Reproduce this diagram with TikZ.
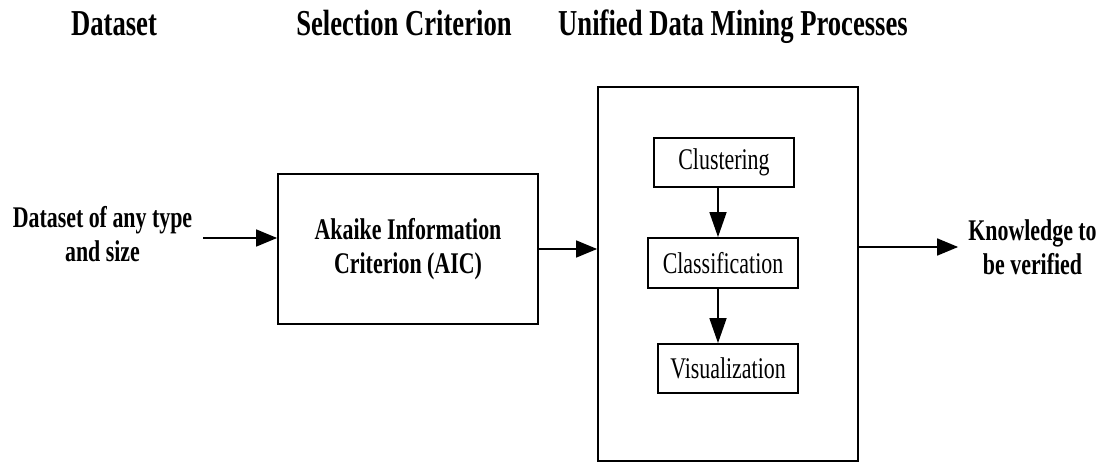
\documentclass[tikz,border=0pt]{standalone}
\usepackage{fontspec}
\setmainfont[FakeStretch=0.73]{Liberation Serif}
\usetikzlibrary{arrows.meta}
\begin{document}
\begin{tikzpicture}[x=1pt,y=-1pt,
  hdr/.style={font=\fontsize{36.5}{40}\selectfont\bfseries, anchor=base, inner sep=0pt},
  lbl/.style={font=\fontsize{30}{34}\selectfont\bfseries, align=center, inner sep=0pt},
  frame/.style={draw, line width=1.8pt, inner sep=0pt},
  stage/.style={frame, font=\fontsize{30}{34}\selectfont},
  flow/.style={line width=1.6pt, -{Triangle[length=21pt,width=17pt]}},
  down/.style={line width=1.6pt, -{Triangle[length=25pt,width=17pt]}}]
\useasboundingbox (0,0) rectangle (1102,462);

% column headings
\node[hdr] (h1) at (114,36) {Dataset};
\node[hdr] (h2) at (404,36) {Selection Criterion};
\node[hdr] (h3) at (733,36) {Unified Data Mining Processes};

% input, selection criterion and output
\node[lbl] (in) at (102.5,234) {Dataset of any type\\and size};
\node[frame, lbl, minimum width=260pt, minimum height=150pt] (aic) at (408,249)
  {Akaike Information\\Criterion (AIC)};
\node[lbl] (out) at (1032.5,247) {Knowledge to\\be verified};

% unified mining processes
\node[frame, minimum width=260pt, minimum height=374pt] (udm) at (728,274) {};
\node[stage, minimum width=140pt, minimum height=49pt] (clu) at (724,162.5) {Clustering};
\node[stage, minimum width=150pt, minimum height=50pt] (cla) at (723,263) {Classification};
\node[stage, minimum width=140pt, minimum height=49pt] (vis) at (728,368.5) {Visualization};

% connectors
\coordinate (inTail) at (203,238);
\draw[flow] (inTail) -- (inTail -| aic.west);
\draw[flow] (aic.east) -- (aic.east -| udm.west);
\draw[flow] (out.west -| udm.east) -- ([xshift=-10pt]out.west);
\coordinate (axis) at (718,0);
\draw[down] (clu.south -| axis) -- (cla.north -| axis);
\draw[down] (cla.south -| axis) -- (vis.north -| axis);
\end{tikzpicture}
\end{document}
